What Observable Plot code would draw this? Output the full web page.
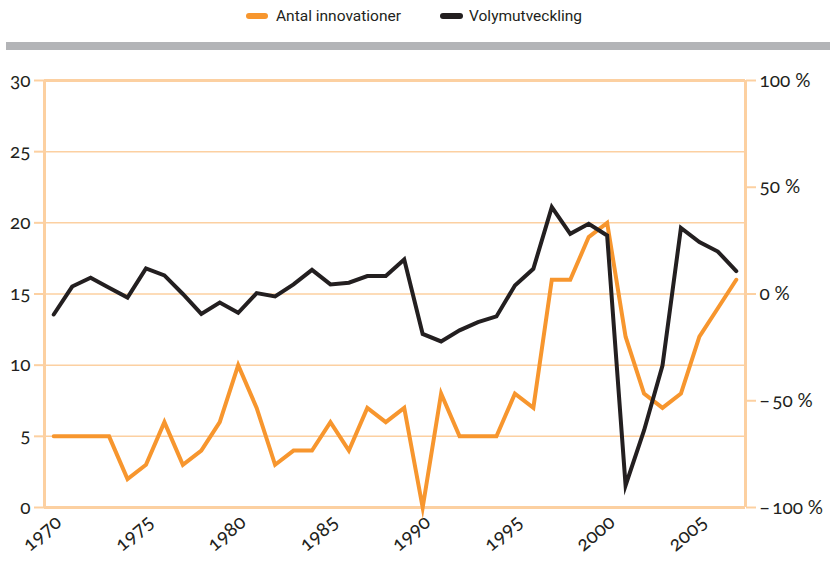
<!DOCTYPE html>
<html><head><meta charset="utf-8">
<script src="https://cdn.jsdelivr.net/npm/d3@7"></script>
<script src="https://cdn.jsdelivr.net/npm/@observablehq/plot@0.6"></script>
<style>
html,body{margin:0;padding:0;background:#fff;}
body{width:830px;height:561px;overflow:hidden;position:relative;}
.leg{position:absolute;top:6px;font-family:Roboto,"Noto Sans",sans-serif;font-size:15.5px;color:#231f20;line-height:20px;}
.sw{position:absolute;height:6px;border-radius:3px;top:13px;}
#band{position:absolute;left:6px;top:42px;width:824px;height:8px;background:#b3b4b7;}
#chart{position:absolute;left:0;top:56px;}
#chart svg, #chart svg text{font-variant-numeric:oldstyle-nums;font-feature-settings:"onum" 1;}
</style></head>
<body>
<div class="sw" id="sw1" style="left:246px;width:22px;"></div>
<div class="leg" id="lg1" style="left:276px;"></div>
<div class="sw" id="sw2" style="left:440px;width:23px;"></div>
<div class="leg" id="lg2" style="left:469px;"></div>
<div id="band"></div>
<div id="chart"></div>
<script>
const years = [1970,1971,1972,1973,1974,1975,1976,1977,1978,1979,1980,1981,1982,1983,1984,1985,1986,1987,1988,1989,1990,1991,1992,1993,1994,1995,1996,1997,1998,1999,2000,2001,2002,2003,2004,2005,2006,2007];
const innovations = [5,5,5,5,2,3,6,3,4,6,10,7,3,4,4,6,4,7,6,7,0,8,5,5,5,8,7,16,16,19,20,12,8,7,8,12,14,16];
const volumePct = [-9.6,3.5,7.6,2.9,-1.7,12,8.7,0,-9.3,-4,-8.8,0.4,-1.1,4.5,11.3,4.5,5.3,8.4,8.4,16.2,-18.7,-22.2,-17,-13.2,-10.5,4,11.8,40.7,28.2,32.9,27.4,-89.7,-63.9,-33.5,30.9,24.3,19.9,10.7];
const seriesNames = ["Antal innovationer","Volymutveckling"];
const seriesColors = ["#f7962e","#231f20"];
const leftTicks = [0,5,10,15,20,25,30];
const rightTicksPct = [-100,-50,0,50,100];
const xTicks = [1970,1975,1980,1985,1990,1995,2000,2005];

document.getElementById("sw1").style.background = seriesColors[0];
document.getElementById("sw2").style.background = seriesColors[1];
document.getElementById("lg1").textContent = seriesNames[0];
document.getElementById("lg2").textContent = seriesNames[1];

const pctToLeft = p => 15 + p * 15 / 100;
const orangeData = years.map((y, i) => ({year: y, v: innovations[i]}));
const blackData = years.map((y, i) => ({year: y, v: pctToLeft(volumePct[i])}));
const peach = "#fcd0a1";
const fmtPct = v => (v < 0 ? "\u2212\u2009" : "") + Math.abs(v) + " %";

const chart = Plot.plot({
  width: 830,
  height: 505,
  marginTop: 24,
  marginBottom: 54,
  marginLeft: 44,
  marginRight: 85,
  style: {fontFamily: "Lato, 'Noto Sans', sans-serif", fontSize: "19px", color: "#231f20", background: "#fff"},
  x: {domain: [1969.5, 2007.5]},
  y: {domain: [0, 30]},
  marks: [
    Plot.ruleY(leftTicks.filter(d => d > 0 && d < 30), {stroke: peach, strokeWidth: 1.5}),
    Plot.ruleY([0, 30], {stroke: peach, strokeWidth: 3}),
    Plot.ruleX([1969.5, 2007.5], {stroke: peach, strokeWidth: 3}),
    Plot.axisY(leftTicks, {anchor: "left", tickSize: 10, tickPadding: 4, stroke: peach, strokeWidth: 2, fill: "#231f20", label: null, fontSize: 19}),
    Plot.axisY(rightTicksPct.map(pctToLeft), {anchor: "right", tickSize: 10, tickPadding: 4, stroke: peach, strokeWidth: 2, fill: "#231f20", label: null, fontSize: 19, tickFormat: d => fmtPct(Math.round((d - 15) / 15 * 100))}),
    Plot.axisX(xTicks, {anchor: "bottom", tickSize: 0, tickPadding: 12, tickRotate: -40, fill: "#231f20", label: null, fontSize: 20, tickFormat: d => String(d), dx: 5}),
    Plot.line(orangeData, {x: "year", y: "v", stroke: seriesColors[0], strokeWidth: 4, strokeLinejoin: "miter", strokeMiterlimit: 10}),
    Plot.line(blackData, {x: "year", y: "v", stroke: seriesColors[1], strokeWidth: 4, strokeLinejoin: "miter", strokeMiterlimit: 10})
  ]
});
document.getElementById("chart").appendChild(chart);
</script>
</body></html>
